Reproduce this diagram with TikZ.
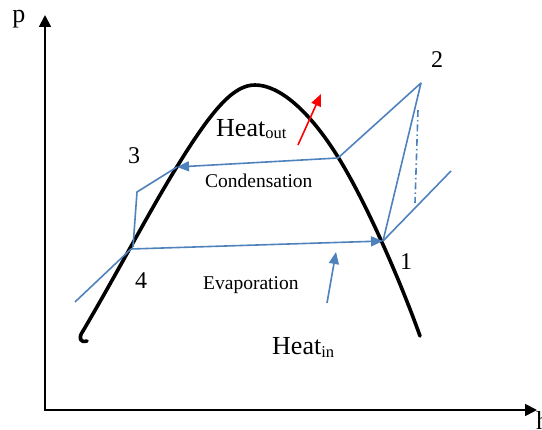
\documentclass[tikz,border=0pt]{standalone}
\usepackage{fontspec}
\setmainfont{Liberation Serif}
\usetikzlibrary{arrows.meta}
\definecolor{cycblue}{RGB}{79,129,189}
\tikzset{
  axisline/.style={line width=1.8pt, -{Triangle[length=12pt,width=12pt]}},
  domeline/.style={line width=3.6pt, line cap=round, line join=round},
  cycline/.style={cycblue, line width=1.6pt, line join=round},
  cycarrow/.style={cycline, -{Triangle[length=12pt,width=10pt]}},
  heatarrow/.style={red, line width=1.6pt, -{Triangle[length=12pt,width=10pt]}},
  numlabel/.style={inner sep=0pt, font=\fontsize{24}{24}\selectfont},
  smalllabel/.style={inner sep=0pt, anchor=base west, font=\fontsize{19.5}{20}\selectfont},
  heatlabel/.style={inner sep=0pt, anchor=base west, font=\fontsize{26}{26}\selectfont}
}
\begin{document}
\begin{tikzpicture}[x=1pt,y=-1pt]
\useasboundingbox (0,0) rectangle (542,430);
% axes
\coordinate (O) at (45,410);
\coordinate (Ytop) at (45,15);
\coordinate (Xend) at (537,410);
\draw[axisline] (O) -- (Ytop);
\draw[axisline] (44.1,410) -- (Xend);
\node[inner sep=0pt, font=\fontsize{26}{26}\selectfont] (plab) at (19,19) {p};
\node[inner sep=0pt, anchor=base west, font=\fontsize{26}{26}\selectfont] (hlab) at (536,430) {h};
% saturation dome
\draw[domeline] (83,331) .. controls (78,338) and (80,343) .. (87,341);
\draw[domeline] (83,331) .. controls (120,268) and (150,210) .. (178,165)
  .. controls (215,105) and (235,85) .. (255,85)
  .. controls (280,85) and (310,112) .. (338,157)
  .. controls (366,202) and (400,280) .. (420,336);
% state points
\coordinate (P1) at (383,241);
\coordinate (P2) at (421,83);
\coordinate (P4) at (131,249);
\coordinate (Pv) at (338,158);
\coordinate (Pl) at (177,167);
\coordinate (P3) at (137,192);
\coordinate (P3b) at (133,247);
\coordinate (E1) at (451,171);
\coordinate (E4) at (75,302);
\coordinate (D1) at (418,110);
\coordinate (D2) at (415,203);
% cycle
\draw[cycarrow] (P4) -- (P1);
\draw[cycarrow] (Pv) -- (Pl);
\draw[cycline] (Pl) -- (P3) -- (P3b);
\draw[cycline] (Pv) -- (P2) -- (P1);
\draw[cycline] (P1) -- (E1);
\draw[cycline] (P4) -- (E4);
\draw[cycline, dash pattern=on 7pt off 3pt on 1.5pt off 3pt] (D1) -- (D2);
% heat arrows
\coordinate (Hi0) at (327,303);
\coordinate (Hi1) at (336,252);
\draw[cycarrow] (Hi0) -- (Hi1);
\coordinate (Ho0) at (298,145);
\coordinate (Ho1) at (321,94);
\draw[heatarrow] (Ho0) -- (Ho1);
% labels
\node[numlabel] (n2) at (437,60) {2};
\node[numlabel] (n3) at (134,156) {3};
\node[numlabel] (n4) at (141,281) {4};
\node[numlabel] (n1) at (406,262) {1};
\node[heatlabel] (hout) at (216,137) {Heat\raisebox{-2pt}{\fontsize{16.5}{17}\selectfont out}};
\node[heatlabel] (hin) at (272,355) {Heat\raisebox{-3pt}{\fontsize{16.5}{17}\selectfont in}};
\node[smalllabel] (cond) at (205,188) {Condensation};
\node[smalllabel] (evap) at (203,290) {Evaporation};
\end{tikzpicture}
\end{document}
